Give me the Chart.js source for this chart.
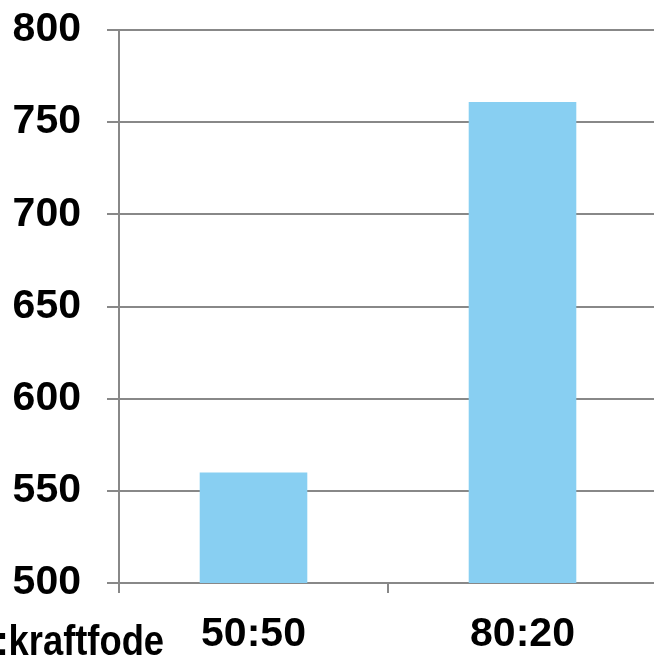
<!DOCTYPE html>
<html>
<head>
<meta charset="utf-8">
<script src="https://cdn.jsdelivr.net/npm/chart.js@4/dist/chart.umd.min.js"></script>
<style>
  html, body { margin: 0; padding: 0; background: #ffffff; overflow: hidden; }
  #wrap { width: 654px; height: 660px; overflow: hidden; }
  canvas { display: block; }
</style>
</head>
<body>
<div id="wrap"><canvas id="chart" width="657" height="660"></canvas></div>
<script>
// Feed ratio categories and their values
const categories = ['50:50', '80:20'];
const values = [560, 761];
const yTicks = [500, 550, 600, 650, 700, 750, 800];
const ratioNote = ':kraftfode';

const FONT = '"Liberation Sans", Arial, Helvetica, sans-serif';
const GRID = '#888888';

// Partial axis caption at the lower-left corner (narrow set)
const notePlugin = {
  id: 'ratioNote',
  afterDraw(chart) {
    const ctx = chart.ctx;
    ctx.save();
    ctx.font = 'bold 42px ' + FONT;
    ctx.fillStyle = '#000000';
    ctx.textAlign = 'left';
    ctx.textBaseline = 'alphabetic';
    ctx.translate(-3.5, 655);
    ctx.scale(0.865, 1);
    ctx.fillText(ratioNote, 0, 0);
    ctx.restore();
  }
};

new Chart(document.getElementById('chart'), {
  type: 'bar',
  data: {
    labels: categories,
    datasets: [{
      data: values,
      backgroundColor: '#88cff2',
      borderWidth: 0,
      categoryPercentage: 1.0,
      barPercentage: 0.4
    }]
  },
  options: {
    responsive: false,
    devicePixelRatio: 1,
    animation: false,
    layout: { padding: { top: 30, right: 0, bottom: 0, left: 0 } },
    plugins: {
      legend: { display: false },
      tooltip: { enabled: false }
    },
    scales: {
      y: {
        min: yTicks[0],
        max: yTicks[yTicks.length - 1],
        afterBuildTicks(scale) {
          scale.ticks = yTicks.map(v => ({ value: v }));
        },
        afterFit(scale) {
          scale.width = 119;
          scale.paddingTop = 0;
          scale.paddingBottom = 0;
        },
        ticks: {
          color: '#000000',
          font: { family: FONT, size: 41, weight: 'bold' },
          padding: 26
        },
        grid: {
          color: GRID,
          lineWidth: 2,
          tickLength: 12,
          drawTicks: true
        },
        border: { display: true, color: GRID, width: 2 }
      },
      x: {
        afterFit(scale) {
          scale.height = 77;
          scale.paddingLeft = 0;
          scale.paddingRight = 0;
        },
        ticks: {
          color: '#000000',
          font: { family: FONT, size: 41, weight: 'bold' },
          padding: 17,
          maxRotation: 0
        },
        grid: {
          offset: true,
          drawOnChartArea: false,
          drawTicks: true,
          tickLength: 10,
          color: GRID,
          lineWidth: 2
        },
        border: { display: true, color: GRID, width: 2 }
      }
    }
  },
  plugins: [notePlugin]
});
</script>
</body>
</html>
